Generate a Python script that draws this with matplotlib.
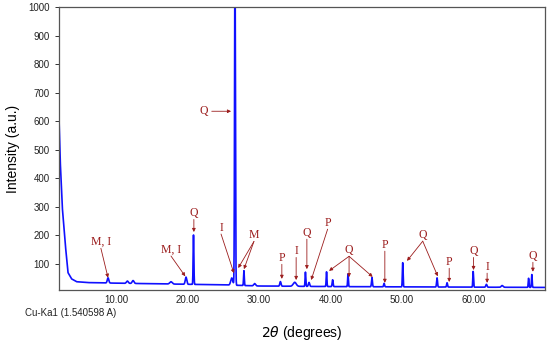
import matplotlib
matplotlib.use("Agg")
import matplotlib.pyplot as plt
import numpy as np

# background level
bg_angle = [2.0, 2.2, 2.5, 2.9, 3.3, 3.8, 4.5, 6.0, 10.0, 15.0, 20.0, 25.0, 30.0, 40.0, 50.0, 60.0, 70.0]
bg_level = [650, 470, 300, 175, 70, 48, 38, 35, 33, 31, 29, 27, 23, 21, 20, 19, 18]

# reflections: position (2theta), height above background, fwhm
peak_pos = [8.9, 11.6, 12.4, 17.7, 19.8, 20.85, 26.2, 26.65, 27.9, 29.4, 33.0, 35.0, 36.5, 37.0,
            39.45, 40.3, 42.45, 45.8, 47.5, 50.1, 54.9, 56.3, 59.95, 61.8, 64.0, 67.7, 68.15]
peak_hgt = [18, 8, 10, 8, 25, 175, 25, 1150, 52, 8, 16, 14, 50, 14,
            52, 24, 44, 32, 12, 85, 32, 15, 55, 10, 6, 32, 45]
peak_fwhm = [0.25, 0.3, 0.3, 0.4, 0.25, 0.12, 0.35, 0.14, 0.12, 0.3, 0.2, 0.5, 0.12, 0.2,
             0.12, 0.15, 0.12, 0.15, 0.15, 0.12, 0.15, 0.15, 0.12, 0.2, 0.3, 0.12, 0.12]

# labels: text, text position, arrow tips
labels = ["M, I", "M, I", "Q", "I", "M", "Q", "P", "I", "Q", "P", "Q", "P", "Q", "P", "Q", "I", "Q"]
label_xy = [(7.9, 177), (17.7, 150), (20.9, 278), (24.7, 227), (29.3, 201), (22.3, 635),
            (33.2, 121), (35.2, 145), (36.7, 209), (39.6, 244), (42.6, 149), (47.6, 167),
            (52.9, 202), (56.6, 107), (60.0, 145), (61.9, 90), (68.3, 128)]
label_tips = [[(8.9, 52)], [(19.7, 57)], [(20.9, 212)], [(26.5, 68)], [(27.1, 86), (27.9, 82)],
              [(26.1, 635)], [(33.2, 48)], [(35.2, 44)], [(36.7, 82)], [(37.3, 44)],
              [(39.8, 76), (42.6, 54), (45.9, 55)], [(47.6, 34)], [(50.7, 111), (55.0, 57)],
              [(56.6, 37)], [(60.0, 79)], [(61.9, 34)], [(68.3, 73)]]

x = np.linspace(2, 70, 4000)
y = np.interp(x, bg_angle, bg_level)
for p, h, w in zip(peak_pos, peak_hgt, peak_fwhm):
    s = w / 2.355
    y = y + h * np.exp(-0.5 * ((x - p) / s) ** 2)

fig = plt.figure(figsize=(5.5, 3.43), dpi=100)
ax = fig.add_axes([0.1067, 0.1545, 0.8843, 0.825])
ax.plot(x, y, color="#1010ff", lw=1.2)
ax.set_xlim(2, 70)
ax.set_ylim(9, 1000)
ax.set_yticks(range(100, 1001, 100))
ax.set_xticks([10, 20, 30, 40, 50, 60])
ax.set_xticklabels(["10.00", "20.00", "30.00", "40.00", "50.00", "60.00"])
ax.tick_params(axis="both", labelsize=7, length=3, width=0.7, colors="#333333",
               labelcolor="#222222")
ax.tick_params(axis="x", length=0)
for sp in ax.spines.values():
    sp.set_color("#555555")
    sp.set_linewidth(0.9)
for t in ax.get_xticklabels() + ax.get_yticklabels():
    t.set_family("Liberation Sans")

red = "#9b1c1c"
for lab, (tx, ty), tips in zip(labels, label_xy, label_tips):
    ax.text(tx, ty, lab, color=red, fontsize=8.5, family="Liberation Serif",
            ha="center", va="center")
    for (px, py) in tips:
        if lab == "Q" and ty > 500:
            sx, sy = tx + 1.1, ty
        else:
            sx, sy = tx, ty - 22
        ax.annotate("", xy=(px, py), xytext=(sx, sy),
                    arrowprops=dict(arrowstyle="-|>", color=red, lw=0.6,
                                    mutation_scale=5, shrinkA=0, shrinkB=0))

ax.set_ylabel("Intensity (a.u.)", fontsize=10, family="Liberation Sans", labelpad=6)
ax.set_xlabel(r"$2\theta$ (degrees)", fontsize=10, family="Liberation Sans", labelpad=14)
fig.text(0.045, 0.078, "Cu-Ka1 (1.540598 A)", fontsize=7, family="Liberation Sans",
         color="#222222")

fig.savefig("out.png", dpi=100)
